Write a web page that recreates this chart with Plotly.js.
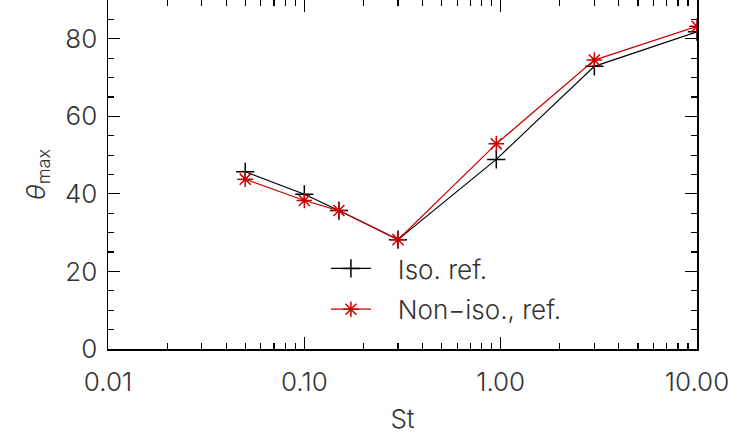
<!DOCTYPE html>
<html>
<head>
<meta charset="utf-8">
<script src="https://cdn.plot.ly/plotly-3.0.1.min.js"></script>
<style>
  html, body { margin: 0; padding: 0; background: #fff; }
  #chart { width: 744px; height: 441px; }
</style>
</head>
<body>
<div id="chart"></div>
<script>
// Stokes number values
const stokes = [0.05, 0.1, 0.15, 0.3, 0.95, 3, 10];
// Maximum angle, isothermal reference runs
const thetaIso = [45.7, 39.9, 35.7, 28.2, 48.9, 72.9, 81.8];
// Maximum angle, non-isothermal reference runs
const thetaNonIso = [43.8, 38.3, 35.7, 28.2, 52.9, 74.5, 83.2];
const seriesNames = ['Iso. ref.', 'Non\u2212iso., ref.'];
const xTickVals = [0.01, 0.1, 1, 10];
const yTickVals = [0, 20, 40, 60, 80];

const font = { family: 'Inter, sans-serif', size: 26, color: '#333', weight: 300 };
const pad = '\u00a0\u00a0\u00a0';

const traces = [
  {
    x: stokes, y: thetaIso, name: pad + seriesNames[0], legendgroup: 'a',
    type: 'scatter', mode: 'lines+markers',
    line: { color: '#000', width: 1.2 },
    marker: { symbol: 'cross-thin-open', size: 13, color: '#000', line: { color: '#000', width: 1.5 } }
  },
  {
    x: stokes, y: thetaNonIso, name: pad + seriesNames[1], legendgroup: 'b',
    type: 'scatter', mode: 'lines+markers',
    line: { color: '#cc0000', width: 1.2 },
    marker: { symbol: 'asterisk-open', size: 13, color: '#cc0000', line: { color: '#cc0000', width: 1.5 } }
  }
];

const layout = {
  width: 744, height: 441,
  margin: { l: 108, r: 47, t: 0, b: 92 },
  paper_bgcolor: '#fff', plot_bgcolor: '#fff',
  font: font,
  showlegend: true,
  legend: {
    x: 0.37, y: 0.298, xanchor: 'left', yanchor: 'top',
    bgcolor: 'rgba(0,0,0,0)', font: font,
    tracegroupgap: 4, itemwidth: 40
  },
  xaxis: {
    type: 'log', range: [-2, 1],
    tickvals: xTickVals, tickformat: '.2f',
    ticks: 'inside', ticklen: 12, tickwidth: 1.2, tickcolor: '#000',
    minor: { ticks: 'inside', ticklen: 6, tickwidth: 1.2, tickcolor: '#000', dtick: 'D1' },
    showline: true, linecolor: '#000', linewidth: 1.5, mirror: 'ticks',
    showgrid: false, zeroline: false,
    ticklabelstandoff: 9,
    title: { text: 'St', font: font, standoff: 14 }
  },
  yaxis: {
    range: [0, 90],
    tickvals: yTickVals,
    ticks: 'inside', ticklen: 12, tickwidth: 1.2, tickcolor: '#000',
    minor: { ticks: 'inside', ticklen: 6, tickwidth: 1.2, tickcolor: '#000', dtick: 5 },
    showline: true, linecolor: '#000', linewidth: 1.5, mirror: 'ticks',
    showgrid: false, zeroline: false,
    ticklabelstandoff: 4,
    title: { text: '<i>\u03b8</i><sub>max</sub>', font: font, standoff: 12 }
  }
};

Plotly.newPlot('chart', traces, layout, { staticPlot: true, displayModeBar: false });
</script>
</body>
</html>
